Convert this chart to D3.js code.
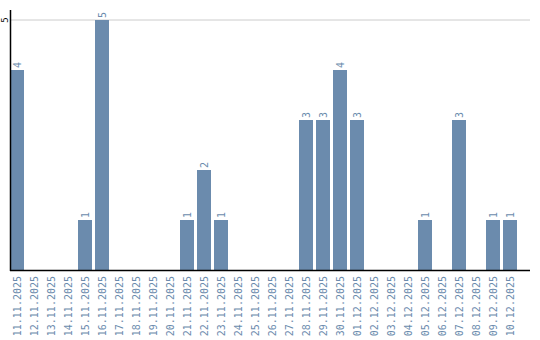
<!DOCTYPE html>
<html>
<head>
<meta charset="utf-8">
<script src="https://cdn.jsdelivr.net/npm/d3@7"></script>
<style>
body{margin:0;background:#fff;}
svg{display:block;}
</style>
</head>
<body>
<script>
let days=["11.11.2025","12.11.2025","13.11.2025","14.11.2025","15.11.2025","16.11.2025","17.11.2025","18.11.2025","19.11.2025","20.11.2025","21.11.2025","22.11.2025","23.11.2025","24.11.2025","25.11.2025","26.11.2025","27.11.2025","28.11.2025","29.11.2025","30.11.2025","01.12.2025","02.12.2025","03.12.2025","04.12.2025","05.12.2025","06.12.2025","07.12.2025","08.12.2025","09.12.2025","10.12.2025"];
let counts=[4,0,0,0,1,5,0,0,0,0,1,2,1,0,0,0,0,3,3,4,3,0,0,0,1,0,3,0,1,1];
let yTicks=[5];

let w=540,h=340;
let col="#6b8bad";
let svg=d3.select("body").append("svg").attr("width",w).attr("height",h);

let x=d3.scaleBand().domain(days).range([10,517]).paddingInner(3/17).paddingOuter(0);
let y=d3.scaleLinear().domain([0,5.2]).range([270,10]);

// grid
svg.append("g").selectAll("line").data(yTicks).enter().append("line")
  .attr("x1",10).attr("x2",530).attr("y1",d=>y(d)).attr("y2",d=>y(d))
  .attr("stroke","#cccccc").attr("stroke-width",1);

// bars
svg.append("g").selectAll("rect").data(counts).enter().append("rect")
  .attr("x",(d,i)=>x(days[i])).attr("width",x.bandwidth())
  .attr("y",d=>y(d)).attr("height",d=>y(0)-y(d))
  .attr("fill",col);

// value labels (only non-zero)
let vl=svg.append("g");
counts.forEach((d,i)=>{
  if(d<=0) return;
  let cx=x(days[i])+x.bandwidth()/2;
  vl.append("text").text(d)
    .attr("transform","translate("+(cx+3.5)+","+(y(d)-2)+") rotate(-90)")
    .style("font","10px 'DejaVu Sans Mono'").style("fill",col);
});

// x axis
let xAxis=d3.axisBottom(x).tickSize(0).tickPadding(0);
let gx=svg.append("g").attr("transform","translate(0,270)").call(xAxis);
gx.select(".domain").remove();
gx.selectAll("text")
  .attr("transform","rotate(-90)")
  .attr("x",-6).attr("y",0).attr("dy","0.35em")
  .style("text-anchor","end")
  .style("font","10px 'DejaVu Sans Mono'").style("fill",col);
svg.append("line").attr("x1",10).attr("x2",530).attr("y1",270.5).attr("y2",270.5)
  .attr("stroke","#000").attr("stroke-width",1.5);

// y axis
svg.append("line").attr("x1",10.5).attr("x2",10.5).attr("y1",10).attr("y2",271)
  .attr("stroke","#000").attr("stroke-width",1.5);
svg.append("g").selectAll("text").data(yTicks).enter().append("text")
  .text(d=>d)
  .attr("transform",d=>"translate(8,"+y(d)+") rotate(-90)")
  .style("text-anchor","middle")
  .style("font","9px 'DejaVu Sans Mono'").style("fill","#000");
</script>
</body>
</html>
